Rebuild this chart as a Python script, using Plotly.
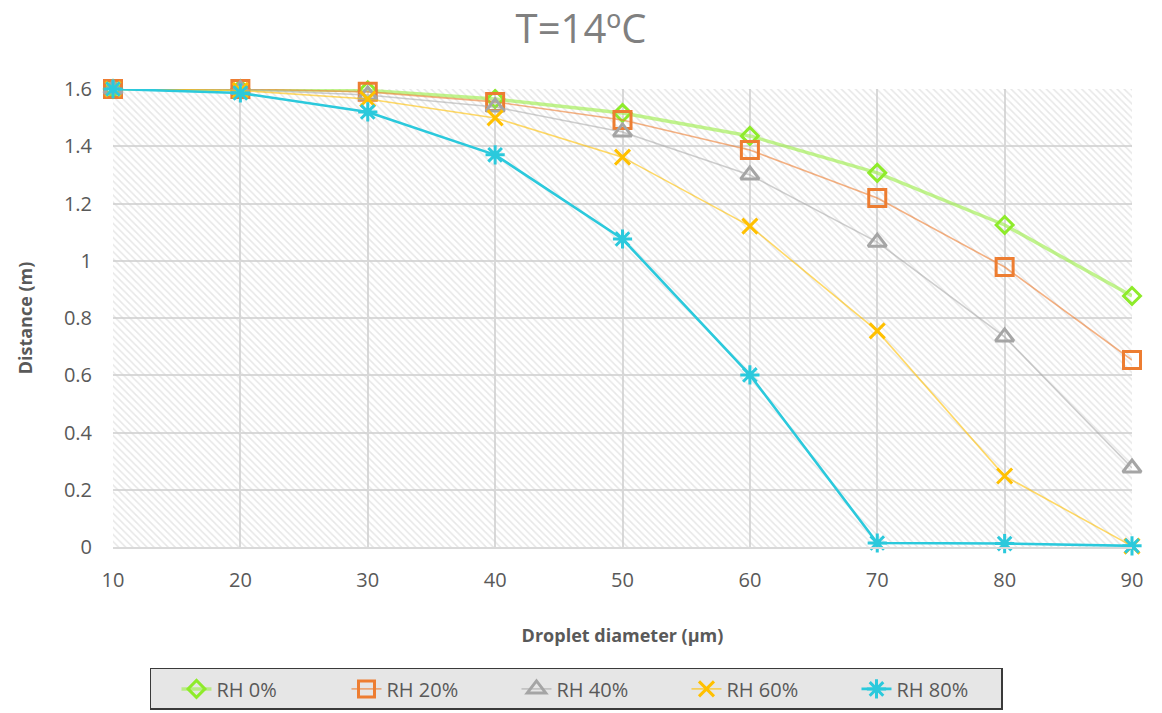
import plotly.graph_objects as go

# Droplet diameter (µm) and travelled distance (m) at T = 14 ºC
diameters = [10, 20, 30, 40, 50, 60, 70, 80, 90]
rh_0 = [1.600, 1.600, 1.595, 1.565, 1.516, 1.436, 1.307, 1.125, 0.877]
rh_20 = [1.600, 1.600, 1.590, 1.555, 1.492, 1.387, 1.219, 0.978, 0.653]
rh_40 = [1.600, 1.598, 1.579, 1.537, 1.450, 1.300, 1.065, 0.734, 0.276]
rh_60 = [1.600, 1.595, 1.565, 1.499, 1.362, 1.121, 0.755, 0.248, 0.003]
rh_80 = [1.600, 1.586, 1.520, 1.370, 1.076, 0.601, 0.014, 0.012, 0.004]

series_names = ["RH 0%", "RH 20%", "RH 40%", "RH 60%", "RH 80%"]
y_ticks = [0, 0.2, 0.4, 0.6, 0.8, 1.0, 1.2, 1.4, 1.6]

x_min, x_max = diameters[0], diameters[-1]
y_min, y_max = y_ticks[0], y_ticks[-1]

FONT = "Open Sans, Noto Sans, sans-serif"

styles = [
    dict(line=dict(color="rgba(160,238,80,0.65)", width=3.5),
         marker=dict(symbol="diamond-open", color="#8EEB2A", size=13, line=dict(width=3))),
    dict(line=dict(color="rgba(237,125,49,0.6)", width=1.6),
         marker=dict(symbol="square-open", color="#ED7D31", size=17, line=dict(width=3))),
    dict(line=dict(color="rgba(165,165,165,0.55)", width=1.6),
         marker=dict(symbol="triangle-up-open", color="#A5A5A5", size=16, line=dict(width=3))),
    dict(line=dict(color="rgba(255,192,0,0.6)", width=1.6),
         marker=dict(symbol="x-thin-open", color="#FFC000", size=15, line=dict(width=3))),
    dict(line=dict(color="#2BC9DC", width=2.6),
         marker=dict(symbol="asterisk-open", color="#2BC9DC", size=16, line=dict(width=3))),
]

fig = go.Figure()

# Hatched plot-area background
fig.add_trace(go.Scatter(
    x=[x_min, x_max, x_max, x_min, x_min],
    y=[y_min, y_min, y_max, y_max, y_min],
    mode="lines", line=dict(width=0), fill="toself",
    fillcolor="rgba(0,0,0,0)",
    fillpattern=dict(shape="\\", fgcolor="#CFCFCF", bgcolor="rgba(0,0,0,0)",
                     size=5, solidity=0.3),
    hoverinfo="skip", showlegend=False,
))

for name, values, st in zip(series_names, [rh_0, rh_20, rh_40, rh_60, rh_80], styles):
    fig.add_trace(go.Scatter(
        x=diameters, y=values, name=name, mode="lines+markers",
        line=st["line"], marker=st["marker"], cliponaxis=False,
    ))

axis_font = dict(family=FONT, size=20, color="#595959")
title_font = dict(family=FONT, size=18, color="#595959")

fig.update_layout(
    width=1162, height=713,
    margin=dict(l=113, r=30, t=89, b=166, autoexpand=False),
    paper_bgcolor="white", plot_bgcolor="white",
    title=dict(text="T=14ºC", x=0.5, xanchor="center", y=0.959, yanchor="middle",
               font=dict(family=FONT, size=40, color="#808080")),
    xaxis=dict(
        range=[x_min, x_max], tickvals=diameters, showgrid=True,
        gridcolor="#D9D9D9", gridwidth=1.8, zeroline=False,
        showline=True, linecolor="#D9D9D9", linewidth=1.8,
        tickfont=axis_font, ticks="", ticklabelstandoff=14, automargin=False,
        title=dict(text="<b>Droplet diameter (µm)</b>", font=title_font, standoff=37),
    ),
    yaxis=dict(
        range=[y_min, y_max], tickvals=y_ticks, showgrid=True,
        gridcolor="#D9D9D9", gridwidth=1.8, zeroline=False,
        showline=False, tickfont=axis_font, ticks="", ticklabelstandoff=20,
        automargin=False,
        title=dict(text="<b>Distance (m)</b>", font=title_font, standoff=26),
    ),
    legend=dict(
        orientation="h", x=0.0363, xanchor="left", y=-0.264, yanchor="top",
        bgcolor="#E6E6E6", bordercolor="#3A3A3A", borderwidth=1.5,
        font=dict(family=FONT, size=20, color="#595959"),
        entrywidth=100, entrywidthmode="pixels", itemwidth=30,
        indentation=25, tracegroupgap=0,
    ),
)

fig.write_html("out.html")
